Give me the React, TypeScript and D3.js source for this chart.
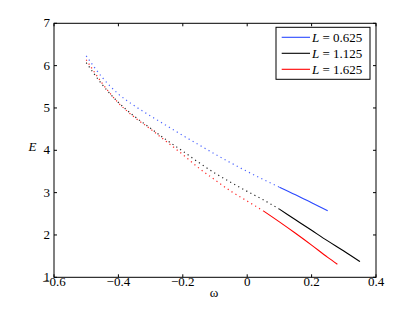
import React from "react";
import * as d3 from "d3";

const W = 415;
const H = 312;

// Dotted (unstable) branches: omega values and E values
const dotOmega = [-0.5, -0.45, -0.4, -0.35, -0.3, -0.25, -0.2, -0.15, -0.1, -0.05, 0, 0.05, 0.1];
const dotBlue = [6.23, 5.72, 5.33, 5.05, 4.81, 4.58, 4.35, 4.13, 3.91, 3.7, 3.5, 3.31, 3.13];
const dotBlack = [6.07, 5.55, 5.13, 4.8, 4.52, 4.24, 3.98, 3.71, 3.46, 3.24, 3.03, 2.83, 2.61];
const dotRedOmega = [-0.5, -0.45, -0.4, -0.35, -0.3, -0.25, -0.2, -0.15, -0.1, -0.05, 0, 0.05];
const dotRed = [6.14, 5.58, 5.12, 4.78, 4.5, 4.2, 3.9, 3.58, 3.3, 3.03, 2.8, 2.57];

// Solid (stable) branches
const solidBlueOmega = [0.1, 0.15, 0.2, 0.25];
const solidBlue = [3.13, 2.95, 2.76, 2.57];
const solidBlackOmega = [0.1, 0.15, 0.2, 0.25, 0.3, 0.35];
const solidBlack = [2.61, 2.36, 2.11, 1.86, 1.62, 1.37];
const solidRedOmega = [0.05, 0.1, 0.15, 0.2, 0.25, 0.28];
const solidRed = [2.57, 2.31, 2.04, 1.76, 1.47, 1.31];

const xTicks = [-0.6, -0.4, -0.2, 0, 0.2, 0.4];
const yTicks = [1, 2, 3, 4, 5, 6, 7];
const legendLabels = ["0.625", "1.125", "1.625"];
const colors = ["#2a48ff", "#000000", "#ff0000"];

const zip = (xs: number[], ys: number[]) => xs.map((x, i) => [x, ys[i]] as [number, number]);

export default function App() {
  const left = 54, right = 376, top = 23.3, bottom = 277.3;
  const x = d3.scaleLinear().domain([-0.6, 0.4]).range([left, right]);
  const y = d3.scaleLinear().domain([1, 7]).range([bottom, top]);
  const line = d3
    .line<[number, number]>()
    .x((d) => x(d[0]))
    .y((d) => y(d[1]))
    .curve(d3.curveMonotoneX);

  const dotted = [zip(dotOmega, dotBlue), zip(dotOmega, dotBlack), zip(dotRedOmega, dotRed)];
  const solid = [
    zip(solidBlueOmega, solidBlue),
    zip(solidBlackOmega, solidBlack),
    zip(solidRedOmega, solidRed),
  ];
  const ts: React.CSSProperties = { fontFamily: "'Liberation Serif', 'Times New Roman', serif" };
  const tl = 3;

  return (
    <svg
      width={W}
      height={H}
      style={{ position: "absolute", left: 0, top: 0, background: "#fff" }}
    >
      <rect x={0} y={0} width={W} height={H} fill="#fff" />
      {dotted.map((d, i) => (
        <path
          key={"d" + i}
          d={line(d) || ""}
          fill="none"
          stroke={colors[i]}
          strokeWidth={1.2}
          strokeDasharray="1.2 3.4"
          opacity={0.85}
        />
      ))}
      {solid.map((d, i) => (
        <path key={"s" + i} d={line(d) || ""} fill="none" stroke={colors[i]} strokeWidth={1.1} />
      ))}
      {/* frame */}
      <rect x={left} y={top} width={right - left} height={bottom - top} fill="none" stroke="#000" strokeWidth={1} />
      {xTicks.map((t, i) => (
        <g key={"xt" + i}>
          <line x1={x(t)} x2={x(t)} y1={bottom} y2={bottom - tl} stroke="#000" />
          <line x1={x(t)} x2={x(t)} y1={top} y2={top + tl} stroke="#000" />
          <text x={x(t)} y={286} fontSize={13} textAnchor="middle" style={ts}>
            {t < 0 ? "\u2212" + Math.abs(t).toString() : t.toString()}
          </text>
        </g>
      ))}
      {yTicks.map((t, i) => (
        <g key={"yt" + i}>
          <line x1={left} x2={left + tl} y1={y(t)} y2={y(t)} stroke="#000" />
          <line x1={right} x2={right - tl} y1={y(t)} y2={y(t)} stroke="#000" />
          <text x={50} y={y(t) + 4} fontSize={13} textAnchor="end" style={ts}>
            {t}
          </text>
        </g>
      ))}
      <text x={214} y={297} fontSize={13} textAnchor="middle" style={ts}>
        ω
      </text>
      <text x={32.5} y={150.5} fontSize={13} textAnchor="middle" fontStyle="italic" style={ts}>
        E
      </text>
      {/* legend */}
      <rect x={276} y={27.3} width={94} height={52} fill="#fff" stroke="#000" strokeWidth={1} />
      {legendLabels.map((l, i) => (
        <g key={"lg" + i}>
          <line x1={281.7} x2={310} y1={37.3 + i * 16} y2={37.3 + i * 16} stroke={colors[i]} strokeWidth={1.1} />
          <text x={312} y={41.8 + i * 16} fontSize={13} style={ts}>
            <tspan fontStyle="italic">L</tspan> = {l}
          </text>
        </g>
      ))}
    </svg>
  );
}
